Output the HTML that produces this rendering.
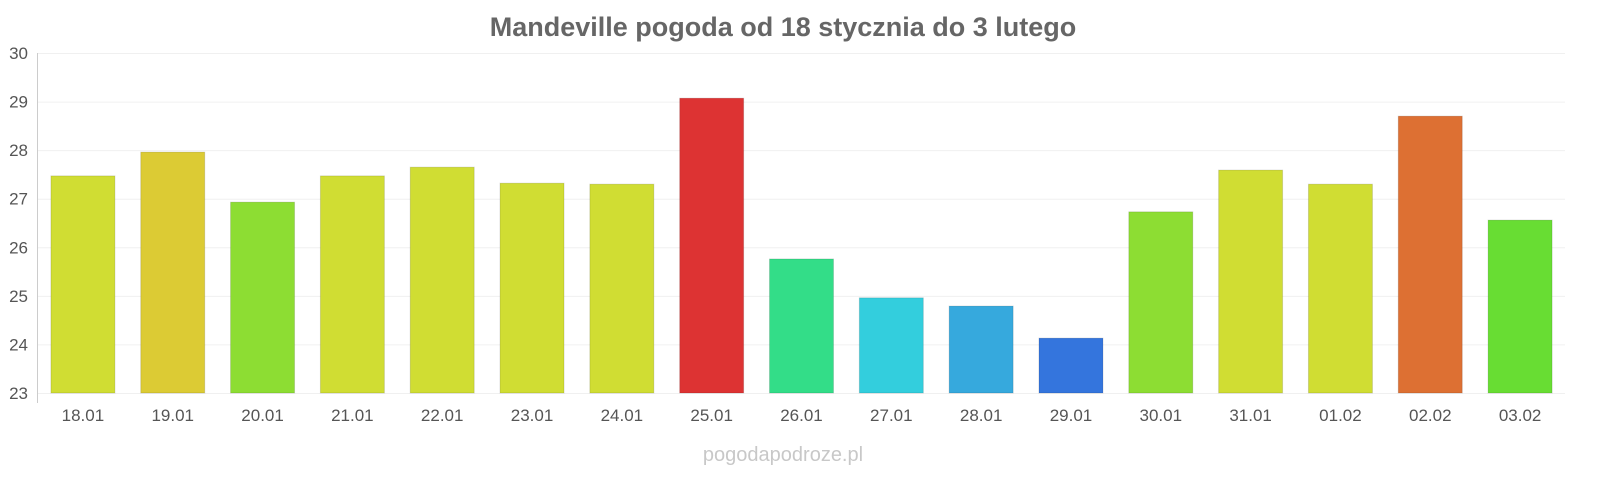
<!DOCTYPE html>
<html><head><meta charset="utf-8"><style>
body{margin:0;background:#fff;font-family:"Liberation Sans",sans-serif;}
svg{display:block}
</style></head><body>
<svg id="chart" width="1600" height="480">
<text x="783" y="36" text-anchor="middle" font-size="27" font-weight="bold" fill="#666">Mandeville pogoda od 18 stycznia do 3 lutego</text>
<g id="grid"></g><g id="bars"></g><g id="xlabels"></g><g id="ylabels"></g>
<line x1="37.5" y1="53" x2="37.5" y2="403" stroke="#ccc"/>
<text x="783" y="461" text-anchor="middle" font-size="20" fill="#c8c8c8">pogodapodroze.pl</text>
</svg>
<script>
const categories=["18.01","19.01","20.01","21.01","22.01","23.01","24.01","25.01","26.01","27.01","28.01","29.01","30.01","31.01","01.02","02.02","03.02"];
const values=[27.47,27.96,26.93,27.47,27.65,27.32,27.3,29.07,25.76,24.96,24.79,24.13,26.73,27.59,27.3,28.7,26.56];
const colors=["#d0dd33","#dccb34","#8ddd33","#d0dd33","#d0dd33","#d0dd33","#d0dd33","#dd3333","#33dd88","#33cedd","#36a9dd","#3475dd","#8ddd33","#d0dd33","#d0dd33","#dd7033","#68dd33"];
const yTicks=[23,24,25,26,27,28,29,30];
const ns="http://www.w3.org/2000/svg";
const yMin=23,yMax=30,plotTop=53,plotBottom=393,plotLeft=38,plotRight=1565;
const yScale=v=>plotBottom-(v-yMin)/(yMax-yMin)*(plotBottom-plotTop);
const band=(plotRight-plotLeft)/categories.length;
const xScale=i=>plotLeft+band*(i+0.5);
function mk(t,a,p){const e=document.createElementNS(ns,t);for(const k in a)e.setAttribute(k,a[k]);p.appendChild(e);return e;}
const g=document.getElementById('grid'),yl=document.getElementById('ylabels');
yTicks.forEach(t=>{
 const l=mk('line',{x1:plotLeft,x2:plotRight,y1:yScale(t)+0.5,y2:yScale(t)+0.5,stroke:'#f0f0f0'},g);
 
 
 const tx=mk('text',{x:28,y:yScale(t)+6,'text-anchor':'end','font-size':17,fill:'#555'},yl);
 tx.textContent=t;
 
 
});
const b=document.getElementById('bars'),xl=document.getElementById('xlabels');
const bw=64;
categories.forEach((c,i)=>{
 const r=mk('rect',{x:xScale(i)-bw/2,y:yScale(values[i]),width:bw,height:plotBottom-yScale(values[i]),fill:colors[i],stroke:'rgba(0,0,0,0.12)','stroke-width':1},b);
 
 
 const t=mk('text',{x:xScale(i),y:421,'text-anchor':'middle','font-size':17,fill:'#555'},xl);
 t.textContent=c;
 
 
});
</script>
</body></html>
